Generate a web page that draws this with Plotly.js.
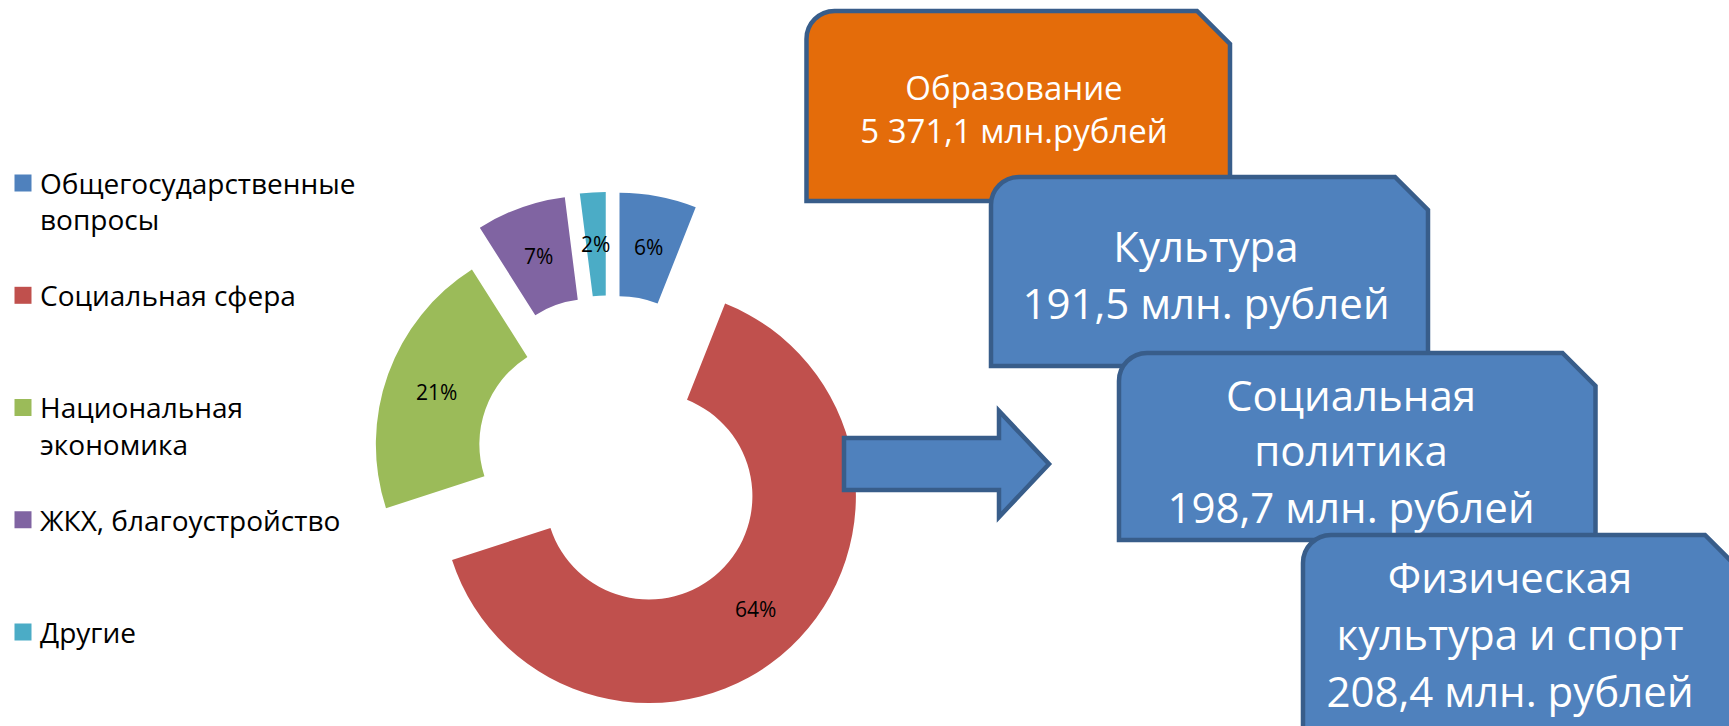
<!DOCTYPE html>
<html>
<head>
<meta charset="utf-8">
<script src="https://cdn.plot.ly/plotly-3.0.1.min.js"></script>
<style>html,body{margin:0;padding:0;background:#fff}#chart{width:1729px;height:726px}</style>
</head>
<body>
<div id="chart"></div>
<script>
// ---- data ----
const categories = ['Общегосударственные\nвопросы', 'Социальная сфера', 'Национальная\nэкономика', 'ЖКХ, благоустройство', 'Другие'];
const shares = [6, 64, 21, 7, 2];
const sliceColors = ['#4F81BD', '#C0504D', '#9BBB59', '#8064A2', '#4BACC6'];

const subsectors = ['Образование', 'Культура', 'Социальная\nполитика', 'Физическая\nкультура и спорт'];
const amounts = [5371.1, 191.5, 198.7, 208.4];
const amountUnits = ['млн.рублей', 'млн. рублей', 'млн. рублей', 'млн. рублей'];

// ---- layout constants ----
const W = 1729, H = 726;
const FONT = 'Open Sans, Noto Sans, sans-serif';
const PIE_CX = 609.2, PIE_CY = 453.8, PIE_R = 207, HOLE = 0.5;
const pullPx = [55, 58, 28, 54.5, 55];
const pulls = pullPx.map(p => p / PIE_R);
const maxPull = Math.max.apply(null, pulls);
const pieHalf = PIE_R * (1 + maxPull);

function px(x) { return x / W; }
function py(y) { return 1 - y / H; }

function fmtAmount(v) {
  const parts = v.toFixed(1).split('.');
  return parts[0].replace(/\B(?=(\d{3})+(?!\d))/g, ' ') + ',' + parts[1];
}

// legend labels: pad entries to three lines (last one kept single) so entries are evenly spaced
const legendLabels = categories.map((c, i) => {
  const lines = c.split('\n');
  if (i < categories.length - 1) while (lines.length < 3) lines.push(' ');
  return lines.join('<br>');
});

const pie = {
  type: 'pie',
  labels: legendLabels,
  values: shares,
  sort: false,
  direction: 'clockwise',
  rotation: 0,
  hole: HOLE,
  pull: pulls,
  marker: { colors: sliceColors, line: { width: 0 } },
  textinfo: 'none',
  domain: {
    x: [px(PIE_CX - pieHalf), px(PIE_CX + pieHalf)],
    y: [py(PIE_CY + pieHalf), py(PIE_CY - pieHalf)]
  },
  hoverinfo: 'label+percent'
};

// ---- percentage labels at the middle of each (pulled) ring sector ----
const annotations = [];
(function () {
  const total = shares.reduce((a, b) => a + b, 0);
  let cum = 0;
  shares.forEach((v, i) => {
    const mid = 2 * Math.PI * (cum + v / 2) / total;
    cum += v;
    const ux = Math.sin(mid), uy = -Math.cos(mid);
    const rho = pullPx[i] + PIE_R * (1 + HOLE) / 2;
    annotations.push({
      xref: 'paper', yref: 'paper',
      x: px(PIE_CX + rho * ux), y: py(PIE_CY + rho * uy),
      xanchor: 'center', yanchor: 'middle', showarrow: false,
      text: Math.round(v / total * 100) + '%',
      font: { family: FONT, size: 21, color: '#000000' }
    });
  });
})();

// ---- boxes (snip + round single corner rectangles) ----
const boxes = [
  { l: 806.5, t: 11, r: 1230, b: 201, fill: '#E46C0A', cx: 1014, fs: 33, base: [102, 145] },
  { l: 991, t: 177, r: 1428, b: 366, fill: '#4F81BD', cx: 1206, fs: 42, base: [264, 321] },
  { l: 1119, t: 353, r: 1595.5, b: 540, fill: '#4F81BD', cx: 1351, fs: 42, base: [413, 468, 525] },
  { l: 1303, t: 535, r: 1738, b: 760, fill: '#4F81BD', cx: 1510, fs: 42, base: [595, 652, 709] }
];
const STROKE = '#385D8A';
const RR = 28, SNIP = 33, K = 0.5523;
const P = (x, y) => px(x).toFixed(5) + ',' + py(y).toFixed(5);

function boxPath(b) {
  return 'M' + P(b.l, b.b) +
    ' L' + P(b.l, b.t + RR) +
    ' C' + P(b.l, b.t + RR - K * RR) + ' ' + P(b.l + RR - K * RR, b.t) + ' ' + P(b.l + RR, b.t) +
    ' L' + P(b.r - SNIP, b.t) +
    ' L' + P(b.r, b.t + SNIP) +
    ' L' + P(b.r, b.b) + ' Z';
}

// each box is followed by its own text lines, so a later box covers an earlier box's text
const shapes = [];
boxes.forEach((b, i) => {
  shapes.push({
    type: 'path', xref: 'paper', yref: 'paper', layer: 'above',
    path: boxPath(b), fillcolor: b.fill, line: { color: STROKE, width: 4.5 }
  });
  const lines = subsectors[i].split('\n').concat([fmtAmount(amounts[i]) + ' ' + amountUnits[i]]);
  lines.forEach((txt, j) => {
    const yc = b.base[j] - 0.38 * b.fs;
    shapes.push({
      type: 'rect', xref: 'paper', yref: 'paper', layer: 'above',
      x0: px(b.cx - 1), x1: px(b.cx + 1), y0: py(yc - 0.5), y1: py(yc + 0.5),
      line: { width: 0 }, fillcolor: 'rgba(0,0,0,0)',
      label: {
        text: txt, textposition: 'middle center', xanchor: 'center', yanchor: 'middle', padding: 0,
        font: { family: FONT, size: b.fs, color: '#FFFFFF' }
      }
    });
  });
});

// block arrow
(function () {
  const a = { l: 844, st: 438, sb: 490, hx: 999, ht: 411, hb: 517, tip: 1049, ty: 464 };
  shapes.push({
    type: 'path', xref: 'paper', yref: 'paper', layer: 'above',
    path: 'M' + P(a.l, a.st) + ' L' + P(a.hx, a.st) + ' L' + P(a.hx, a.ht) + ' L' + P(a.tip, a.ty) +
      ' L' + P(a.hx, a.hb) + ' L' + P(a.hx, a.sb) + ' L' + P(a.l, a.sb) + ' Z',
    fillcolor: '#4F81BD', line: { color: STROKE, width: 4.5 }
  });
})();

const layout = {
  width: W, height: H,
  margin: { l: 0, r: 0, t: 0, b: 0, pad: 0, autoexpand: false },
  paper_bgcolor: '#FFFFFF', plot_bgcolor: '#FFFFFF',
  showlegend: true,
  legend: {
    x: 0, xanchor: 'left', y: py(158.4), yanchor: 'top',
    valign: 'top', bgcolor: 'rgba(0,0,0,0)', borderwidth: 0,
    font: { family: FONT, size: 28, color: '#000' },
    traceorder: 'normal'
  },
  shapes: shapes,
  annotations: annotations
};

Plotly.newPlot('chart', [pie], layout, { displayModeBar: false, staticPlot: true }).then(function () {
  // slightly larger legend squares, like the original
  document.querySelectorAll('path.legendpie').forEach(function (p) {
    p.setAttribute('d', 'M11.5,8.5H-5.5V-8.5H11.5Z');
  });
});
</script>
</body>
</html>
